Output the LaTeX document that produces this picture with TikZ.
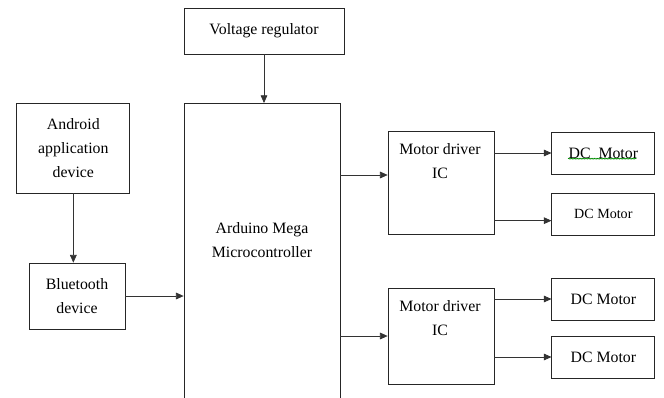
\documentclass[tikz,border=0pt]{standalone}
\usepackage{fontspec}
\setmainfont{Liberation Serif}
\usetikzlibrary{arrows.meta, positioning, decorations.pathmorphing}
\newcommand{\blkfont}{\fontsize{13.5}{20.5}\selectfont}
\tikzset{
  block/.style   = {rectangle, draw=black!85, line width=0.6pt, inner sep=2pt,
                    font=\blkfont, align=center},
  btext/.style   = {font=\blkfont, align=center, inner sep=0pt},
  motor/.style   = {block, minimum width=3.09cm, minimum height=1.26cm},
  driver/.style  = {block, minimum width=3.18cm},
  arr/.style     = {-{Triangle[length=2.3mm, width=2mm]}, draw=black!80, line width=0.6pt},
  squig/.style   = {draw=green!55!black, line width=0.5pt, decorate,
                    decoration={snake, amplitude=0.35pt, segment length=1.3pt}},
}
\begin{document}
\begin{tikzpicture}
  \useasboundingbox (0,0) rectangle (19.92,-11.91);
  \clip (0,0) rectangle (19.92,-11.91);
  % ---- supply and controller
  \node[block, minimum width=4.8cm, minimum height=1.38cm] (vreg) at (7.92,-0.93) {Voltage regulator};
  \node[block, anchor=north, minimum width=4.68cm, minimum height=9.6cm] (ard) at (7.86,-3.09) {};
  \node[btext] (ardt) at (7.86,-7.2) {Arduino Mega\\Microcontroller};
  \draw[arr] (vreg.south) -- (vreg.south |- ard.north);
  % ---- input side
  \node[block, minimum width=3.39cm, minimum height=2.7cm] (andr) at (2.2,-4.44) {Android\\application\\device};
  \node[block, minimum width=2.88cm, minimum height=1.98cm] (bt) at (2.31,-8.88) {Bluetooth\\device};
  \draw[arr] (andr.south) -- (andr.south |- bt.north);
  \draw[arr] (bt.east) -- (bt.east -| ard.west);
  % ---- motor drivers
  \node[driver, minimum height=3.09cm] (md1) at (13.23,-5.475) {};
  \node[btext] (md1t) at (13.2,-4.83) {Motor driver\\IC};
  \node[driver, minimum height=2.88cm] (md2) at (13.23,-10.08) {};
  \node[btext] (md2t) at (13.2,-9.54) {Motor driver\\IC};
  \coordinate (m1in) at ([yshift=2.25mm]md1.west);
  \draw[arr] (m1in -| ard.east) -- (m1in);
  \draw[arr] (md2.west -| ard.east) -- (md2.west);
  % ---- motors
  \node[motor] (dc1) at (18.1,-4.59) {DC\ \ Motor};
  \node[motor, font=\fontsize{12}{14}\selectfont] (dc2) at (18.1,-6.42) {DC Motor};
  \node[motor] (dc3) at (18.1,-8.97) {DC Motor};
  \node[motor] (dc4) at (18.1,-10.71) {DC Motor};
  \draw[squig] ([xshift=-1.06cm, yshift=-0.17cm]dc1.center) -- ([xshift=1.0cm, yshift=-0.17cm]dc1.center);
  \draw[arr] (dc1.west -| md1.east) -- (dc1.west);
  \draw[arr] ([yshift=-0.2cm]dc2.west -| md1.east) -- ([yshift=-0.2cm]dc2.west);
  \draw[arr] (dc3.west -| md2.east) -- (dc3.west);
  \draw[arr] (dc4.west -| md2.east) -- (dc4.west);
\end{tikzpicture}
\end{document}
